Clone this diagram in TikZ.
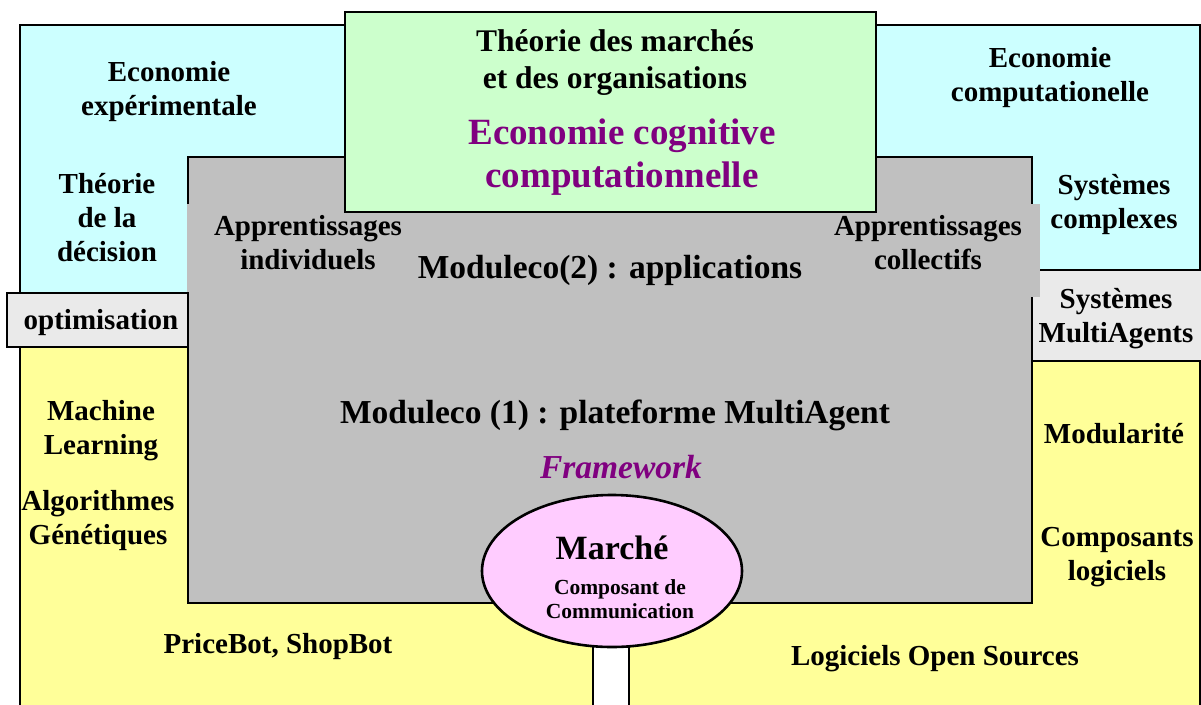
\documentclass[tikz,border=0pt]{standalone}
\usepackage{fontspec}
\setmainfont{Liberation Serif}
\usetikzlibrary{shapes.geometric}
\definecolor{cyanc}{HTML}{CCFFFF}
\definecolor{greenc}{HTML}{CCFFCC}
\definecolor{grayc}{HTML}{C0C0C0}
\definecolor{lgrayc}{HTML}{EAEAEA}
\definecolor{yellowc}{HTML}{FFFF99}
\definecolor{pinkc}{HTML}{FFCCFF}
\definecolor{purplec}{HTML}{800080}
\tikzset{
  panel/.style={draw=black, line width=2.6pt},
  lbl/.style={font=\bfseries\fontsize{29}{34}\selectfont, align=center, text=black, inner sep=0pt},
  toplbl/.style={font=\bfseries\fontsize{31.5}{37}\selectfont, align=center, text=black, inner sep=0pt},
  modlbl/.style={font=\bfseries\fontsize{33.5}{38}\selectfont, align=center, text=black, inner sep=0pt},
  purplelbl/.style={font=\bfseries\fontsize{37}{43}\selectfont, align=center, text=purplec, inner sep=0pt},
}
\begin{document}
\begin{tikzpicture}[x=1pt,y=-1pt]
\useasboundingbox (0,0) rectangle (1201,704);
\clip (0,0) rectangle (1201,704);
% background panels
\path[panel, fill=cyanc] (20,25) rectangle (1200,320);
\path[panel, fill=yellowc] (20,340) rectangle (1200,730);
\path[panel, fill=grayc] (188,157) rectangle (1032,603);
\path[panel, fill=lgrayc] (1032,270) rectangle (1210,361);
% covers of the learning labels
\fill[grayc] (186.8,204) rectangle (430,297);
\fill[grayc] (815,204) rectangle (1040,297);
\path[panel, fill=lgrayc] (7,293) rectangle (188,347);
\path[panel, fill=greenc] (345,12) rectangle (876,212);
% stem and market ellipse
\path[panel, fill=white] (593,600) rectangle (629,730);
\node[ellipse, panel, fill=pinkc, minimum width=260pt, minimum height=152pt, inner sep=0pt] (marche) at (612,571) {};
% texts
\node[lbl] (ecoexp) at (169,92) {Economie\\expérimentale};
\node[lbl] (decision) at (107,218) {Théorie\\de la\\décision};
\node[lbl] (optim) at (101,323) {optimisation};
\node[lbl] (appind) at (308,243) {Apprentissages\\individuels};
\node[lbl] (appcol) at (928,243) {Apprentissages\\collectifs};
\node[lbl] (ecocomp) at (1050,78) {Economie\\computationelle};
\node[lbl] (syscomp) at (1114,205) {Systèmes\\complexes};
\node[lbl] (sma) at (1116,319) {Systèmes\\MultiAgents};
\node[lbl] (ml) at (101,431) {Machine\\Learning};
\node[lbl] (ag) at (98,521) {Algorithmes\\Génétiques};
\node[lbl] (modul) at (1114,434) {Modularité};
\node[lbl] (compos) at (1117,557) {Composants\\logiciels};
\node[lbl] (pricebot) at (278,647) {PriceBot, ShopBot};
\node[lbl] (opensrc) at (935,659) {Logiciels Open Sources};
\node[toplbl] (theorie) at (615,63) {Théorie des marchés\\et des organisations};
\node[purplelbl] (ecocog) at (622,157) {Economie cognitive\\computationnelle};
\node[modlbl] (mod2) at (610,270) {Moduleco(2) : applications};
\node[modlbl] (mod1) at (615,415) {Moduleco (1) : plateforme MultiAgent};
\node[font=\bfseries\itshape\fontsize{33.5}{38}\selectfont, text=purplec, inner sep=0pt] (framework) at (621,467) {Framework};
\node[font=\bfseries\fontsize{34}{40}\selectfont, inner sep=0pt] (marchetxt) at (612,548) {Marché};
\node[font=\bfseries\fontsize{21.5}{23.5}\selectfont, align=center, inner sep=0pt] (compcom) at (620,599) {Composant de\\Communication};
\end{tikzpicture}
\end{document}
